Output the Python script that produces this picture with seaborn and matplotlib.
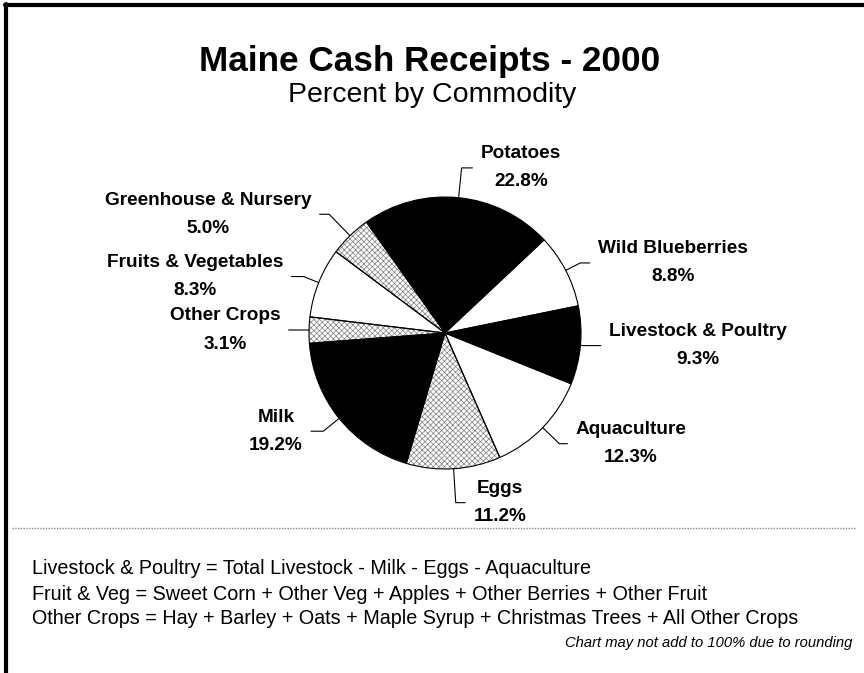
#!/usr/bin/env python
import numpy as np
import matplotlib
import matplotlib.pyplot as plt
from matplotlib.lines import Line2D
import seaborn as sns

# data, clockwise from the top
commodities = ['Potatoes', 'Wild Blueberries', 'Livestock & Poultry', 'Aquaculture',
               'Eggs', 'Milk', 'Other Crops', 'Fruits & Vegetables', 'Greenhouse & Nursery']
percents = [22.8, 8.8, 9.3, 12.3, 11.2, 19.2, 3.1, 8.3, 5.0]
fills = ['black', 'white', 'black', 'white', 'hatch', 'black', 'hatch', 'white', 'hatch']

footnotes = ['Livestock & Poultry = Total Livestock - Milk - Eggs - Aquaculture',
             'Fruit & Veg = Sweet Corn + Other Veg + Apples + Other Berries + Other Fruit',
             'Other Crops = Hay + Barley + Oats + Maple Syrup + Christmas Trees + All Other Crops']

# leader line layout (radius of elbow, length of horizontal tail)
elbow_r = [1.22, 1.12, 1.02, 1.17, 1.25, 1.15, 1.02, 1.12, 1.22]
tail = [0.08, 0.07, 0.13, 0.06, 0.07, 0.09, 0.13, 0.09, 0.07]

sns.set_style('white')
plt.rcParams['font.family'] = ['Liberation Sans', 'DejaVu Sans']
plt.rcParams['text.color'] = 'black'
plt.rcParams['hatch.linewidth'] = 0.5

fig = plt.figure(figsize=(8.64, 6.73), dpi=100)
ax = fig.add_axes([0, 0, 1, 1])

cx, cy, r = 445, 333, 136  # pie centre and radius in pixels

# fill layer
wedges, _ = ax.pie(percents, startangle=125.3, counterclock=False, radius=1,
                   wedgeprops=dict(linewidth=0))
for w, f in zip(wedges, fills):
    if f == 'hatch':
        w.set_facecolor('white')
        w.set_edgecolor('#808080')
        w.set_hatch('xxxxxx')
    else:
        w.set_facecolor(f)
        w.set_edgecolor(f)

# outline layer
outline, _ = ax.pie(percents, startangle=125.3, counterclock=False, radius=1,
                    wedgeprops=dict(facecolor='none', edgecolor='black', linewidth=0.8))

for w, name, pct, er, tl in zip(wedges, commodities, percents, elbow_r, tail):
    mid = np.deg2rad((w.theta1 + w.theta2) / 2)
    ax0, ay0 = np.cos(mid), np.sin(mid)
    ex, ey = er * ax0, er * ay0
    side = 1 if ax0 >= 0 else -1
    tx = ex + side * tl
    ax.plot([ax0, ex, tx], [ay0, ey, ey], color='black', lw=0.8)
    ax.text(tx + side * 0.06, ey, f'{name}\n{pct:.1f}%',
            ha='left' if side > 0 else 'right', va='center', multialignment='center',
            fontsize=13.7, fontweight='bold', linespacing=1.85)

W, H = 864, 673
ax.set_xlim(-cx / r, (W - cx) / r)
ax.set_ylim(-(H - cy) / r, cy / r)
ax.set_aspect('auto')
ax.axis('off')

fig.text(430 / W, 1 - 61 / H, 'Maine Cash Receipts - 2000', ha='center', va='center',
         fontsize=25.3, fontweight='bold')
fig.text(432 / W, 1 - 95 / H, 'Percent by Commodity', ha='center', va='center', fontsize=20.5)

fig.add_artist(Line2D([12 / W, 856 / W], [1 - 528 / H] * 2, color='#888888',
                      lw=1, linestyle=(0, (1, 1))))
for i, line in enumerate(footnotes):
    fig.text(32 / W, 1 - (569 + 25 * i) / H, line, ha='left', va='center', fontsize=14.2)
fig.text(852 / W, 1 - 643 / H, 'Chart may not add to 100% due to rounding',
         ha='right', va='center', fontsize=10.6, style='italic')

# frame: top and left edges only
fig.add_artist(Line2D([5 / W, 1], [1 - 5 / H] * 2, color='black', lw=3))
fig.add_artist(Line2D([6 / W] * 2, [0, 1 - 4 / H], color='black', lw=3))

plt.savefig('out.png', dpi=100)
